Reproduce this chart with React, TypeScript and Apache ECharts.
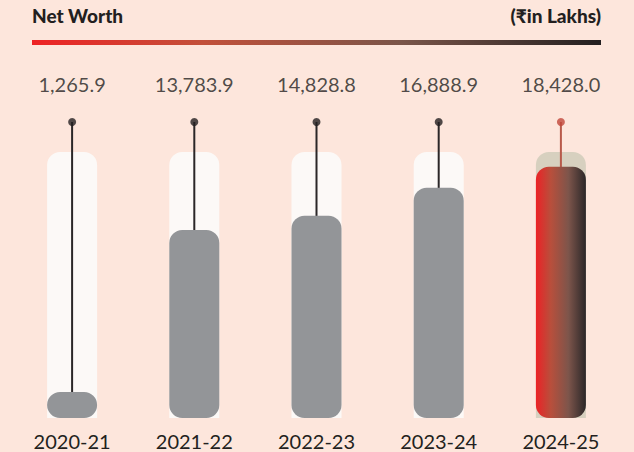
import React, { useEffect, useRef } from "react";
import * as echarts from "echarts";

const categories = ["2020-21", "2021-22", "2022-23", "2023-24", "2024-25"];
const netWorth = [1265.9, 13783.9, 14828.8, 16888.9, 18428.0];
const trackValue = [19500, 19500, 19500, 19500, 19500];
const pinValue = [21700, 21700, 21700, 21700, 21700];

const fmt = (v: number) =>
  v.toLocaleString("en-US", { minimumFractionDigits: 1, maximumFractionDigits: 1 });

export default function App() {
  const ref = useRef<HTMLDivElement>(null);
  useEffect(() => {
    if (!ref.current) return;
    const chart = echarts.init(ref.current, null, { renderer: "svg" });
    const last = categories.length - 1;
    const redGrad = new echarts.graphic.LinearGradient(0, 0, 1, 0, [
      { offset: 0, color: "#ec2226" },
      { offset: 0.3, color: "#b84f3c" },
      { offset: 0.65, color: "#7d554b" },
      { offset: 1, color: "#2b2728" },
    ]);
    const font = "Lato, 'Noto Sans', sans-serif";
    const hiddenX = (i: number) => ({
      type: "category" as const,
      data: categories,
      show: false,
      gridIndex: 0,
      id: "x" + i,
    });
    chart.setOption({
      animation: false,
      backgroundColor: "#fde6dc",
      grid: { left: 11, right: 12, top: 122, bottom: 34 },
      graphic: [
        {
          type: "text",
          left: 32,
          top: 6,
          style: { text: "Net Worth", font: "900 19px " + font, fill: "#231f20" },
        },
        {
          type: "text",
          right: 33,
          top: 6,
          style: { text: "(₹in Lakhs)", font: "900 19px " + font, fill: "#231f20" },
        },
        {
          type: "rect",
          shape: { x: 32, y: 40, width: 569, height: 5 },
          style: {
            fill: new echarts.graphic.LinearGradient(0, 0, 1, 0, [
              { offset: 0, color: "#ee2224" },
              { offset: 0.3, color: "#c2503a" },
              { offset: 0.65, color: "#7a5549" },
              { offset: 1, color: "#231f20" },
            ]),
          },
        },
      ],
      xAxis: [
        {
          type: "category",
          data: categories,
          axisLine: { show: false },
          axisTick: { show: false },
          axisLabel: { fontSize: 20, color: "#231f20", margin: 13, fontFamily: font },
        },
        hiddenX(1),
        hiddenX(2),
      ],
      yAxis: { type: "value", min: 0, max: 21700, show: false, splitLine: { show: false } },
      series: [
        {
          type: "bar",
          xAxisIndex: 0,
          barWidth: 50,
          data: trackValue.map((v, i) => ({
            value: v,
            itemStyle: { color: i === last ? "#d7d0bf" : "#fcf9f7" },
          })),
          itemStyle: { borderRadius: [13, 13, 0, 0] },
          silent: true,
        },
        {
          type: "bar",
          xAxisIndex: 1,
          barWidth: 2,
          data: pinValue.map((v, i) => ({
            value: v,
            itemStyle: { color: i === last ? "#b85a4a" : "#2b2728" },
          })),
          silent: true,
        },
        {
          type: "bar",
          xAxisIndex: 2,
          barWidth: 50,
          barMinHeight: 26,
          data: netWorth.map((v, i) => ({
            value: v,
            itemStyle: { color: i === last ? redGrad : "#939598" },
          })),
          itemStyle: { borderRadius: 13 },
          silent: true,
        },
        {
          type: "scatter",
          xAxisIndex: 0,
          symbolSize: 8,
          data: pinValue.map((v, i) => ({
            value: v,
            itemStyle: { color: i === last ? "#c0463a" : "#231f20" },
            label: { formatter: fmt(netWorth[i]) },
          })),
          label: {
            show: true,
            position: "top",
            distance: 24,
            fontSize: 20,
            color: "#231f20",
            fontFamily: font,
          },
          silent: true,
          z: 5,
        },
      ],
    });
    return () => chart.dispose();
  }, []);
  return (
    <div
      ref={ref}
      style={{ position: "fixed", left: 0, top: 0, width: 634, height: 452 }}
    />
  );
}
